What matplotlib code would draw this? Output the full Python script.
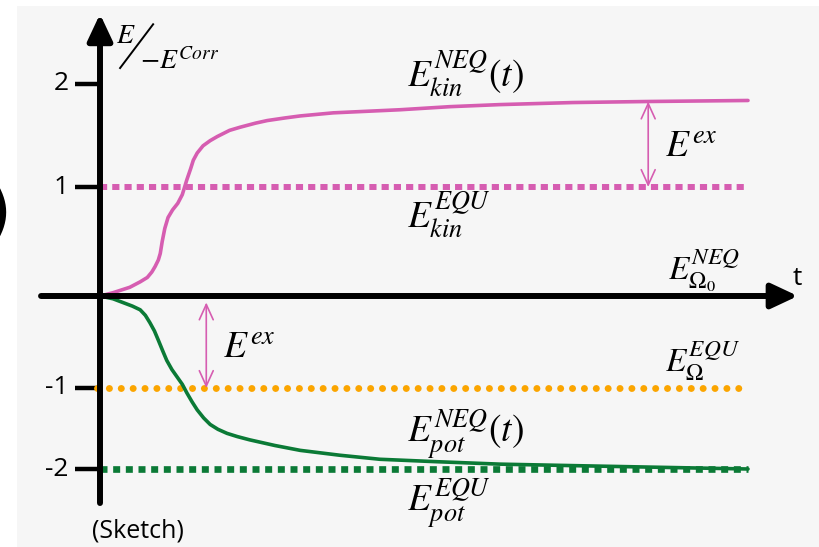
import numpy as np
import matplotlib
matplotlib.use("Agg")
import matplotlib.pyplot as plt
from matplotlib.patches import Rectangle

plt.rcParams['mathtext.fontset'] = 'stix'
plt.rcParams['font.family'] = ['Open Sans', 'DejaVu Sans']

PINK = '#d65db1'
GREEN = '#0b7a36'
ORANGE = '#fba500'

# sketch curves, energy in units of -E_corr vs time
kin_t = [0, 0.2, 0.46, 0.62, 0.73, 0.80, 0.85, 0.90, 0.93, 0.96, 1.00, 1.05,
         1.12, 1.20, 1.27, 1.34, 1.40, 1.44, 1.50, 1.59, 1.70, 1.81, 2.00,
         2.16, 2.40, 2.58, 2.85, 3.09, 3.60, 4.63, 5.40, 6.17, 7.30, 8.44, 10.0]
kin_e = [0, 0.03, 0.08, 0.13, 0.17, 0.22, 0.27, 0.33, 0.39, 0.50, 0.62, 0.72,
         0.79, 0.85, 0.93, 1.07, 1.18, 1.26, 1.33, 1.40, 1.45, 1.49, 1.55,
         1.58, 1.62, 1.645, 1.67, 1.69, 1.72, 1.75, 1.78, 1.80, 1.82, 1.83, 1.84]

pot_t = [0, 0.2, 0.35, 0.50, 0.62, 0.70, 0.77, 0.84, 0.90, 0.97, 1.03, 1.11,
         1.19, 1.27, 1.34, 1.42, 1.50, 1.60, 1.70, 1.82, 1.96, 2.12, 2.31,
         2.70, 3.09, 3.70, 4.32, 5.20, 6.17, 7.41, 8.70, 10.0]
pot_e = [0, -0.03, -0.07, -0.11, -0.15, -0.21, -0.29, -0.38, -0.48, -0.60,
         -0.70, -0.80, -0.88, -0.96, -1.06, -1.17, -1.27, -1.37, -1.45, -1.51,
         -1.56, -1.60, -1.64, -1.71, -1.77, -1.83, -1.88, -1.91, -1.94, -1.96,
         -1.98, -2.0]

# equilibrium levels
kin_equ = 1.0
omega_equ = -1.0
pot_equ = -2.0
t_end = 10.0

yticks = [-2, -1, 1, 2]

# the sketch axis is not evenly spaced: piecewise linear scale
knots_v = [-4, -2, -1, 0, 1, 2, 4]
knots_s = [-335, -173, -92, 0, 109, 212, 418]


def fwd(v):
    return np.interp(v, knots_v, knots_s)


def inv(s):
    return np.interp(s, knots_s, knots_v)


fig = plt.figure(figsize=(8.2, 5.47), dpi=100, facecolor='white')
fig.patches.append(Rectangle((17 / 820, 0), 803 / 820, 541 / 547,
                             transform=fig.transFigure, facecolor='#f6f6f6',
                             edgecolor='none', zorder=-5))
fig.text(12 / 820, 1 - 215 / 547, ')', ha='right', va='center',
         fontsize=48, family='DejaVu Sans', color='black')

ax = fig.add_axes([0, 0, 1, 1])
ax.set_facecolor('none')
ax.set_yscale('function', functions=(fwd, inv))
ax.set_xlim(-100 / 64.8, 720 / 64.8)
ax.set_ylim(inv(-251), inv(296))
for s in ax.spines.values():
    s.set_visible(False)
ax.set_xticks([])
ax.set_yticks([])
ax.minorticks_off()

# axes arrows
arrow = '-|>,head_length=1.6,head_width=0.75'
ax.annotate('', xy=(0, 2.68), xytext=(0, -2.42),
            arrowprops=dict(arrowstyle=arrow, lw=4.3, color='black',
                            shrinkA=0, shrinkB=0, mutation_scale=10))
ax.annotate('', xy=(10.77, 0), xytext=(-0.91, 0),
            arrowprops=dict(arrowstyle=arrow, lw=4.3, color='black',
                            shrinkA=0, shrinkB=0, mutation_scale=10))

# tick marks and labels
for v in yticks:
    ax.plot([-0.39, 0], [v, v], color='black', lw=3.2, solid_capstyle='butt')
    ax.text(-0.48, v, str(v), ha='right', va='center', fontsize=19)

ax.text(10.69, 0.10, 't', fontsize=19, ha='left', va='baseline')
ax.text(-0.13, -2.84, '(Sketch)', fontsize=18, ha='left', va='baseline')

# y axis label E / -E^Corr
ax.text(0.25, 2.40, '$E$', fontsize=20, ha='left', va='baseline')
ax.plot([0.31, 0.82], [2.155, 2.58], color='black', lw=1.4, clip_on=False)
ax.text(0.62, 2.146, '$-E^{Corr}$', fontsize=20, ha='left', va='baseline')

# equilibrium lines
ax.plot([0, t_end], [kin_equ, kin_equ], color=PINK, lw=4.3,
        linestyle=(0, (1.2, 0.85)), dash_capstyle='butt')
ax.plot([-0.05, 9.92], [omega_equ, omega_equ], color=ORANGE, lw=5.0,
        linestyle=(0, (0.01, 1.7)), dash_capstyle='round')
ax.plot([0, t_end], [pot_equ, pot_equ], color=GREEN, lw=4.8,
        linestyle=(0, (1.05, 0.85)), dash_capstyle='butt')

# non-equilibrium curves
ax.plot(kin_t, kin_e, color=PINK, lw=2.6, solid_joinstyle='round',
        solid_capstyle='round')
ax.plot(pot_t, pot_e, color=GREEN, lw=2.6, solid_joinstyle='round',
        solid_capstyle='round')

# excess energy arrows
ex_style = '<->,head_length=1.1,head_width=0.5'
ax.annotate('', xy=(8.46, kin_equ), xytext=(8.46, 1.83),
            arrowprops=dict(arrowstyle=ex_style, lw=1.2, color=PINK,
                            shrinkA=0, shrinkB=0, mutation_scale=10))
ax.annotate('', xy=(1.64, omega_equ), xytext=(1.64, -0.07),
            arrowprops=dict(arrowstyle=ex_style, lw=1.2, color=PINK,
                            shrinkA=0, shrinkB=0, mutation_scale=10))

fs = 27
ax.text(4.74, 1.97, r'$E_{kin}^{NEQ}(t)$', fontsize=fs, va='baseline')
ax.text(4.74, 0.63, r'$E_{kin}^{EQU}$', fontsize=fs, va='baseline')
ax.text(8.72, 1.29, r'$E^{ex}$', fontsize=fs, va='baseline')
ax.text(1.90, -0.67, r'$E^{ex}$', fontsize=fs, va='baseline')
ax.text(8.77, 0.147, r'$E_{\Omega_0}^{NEQ}$', fontsize=fs - 3, va='baseline')
ax.text(8.72, -0.83, r'$E_{\Omega}^{EQU}$', fontsize=fs - 3, va='baseline')
ax.text(4.74, -1.68, r'$E_{pot}^{NEQ}(t)$', fontsize=fs, va='baseline')
ax.text(4.74, -2.53, r'$E_{pot}^{EQU}$', fontsize=fs, va='baseline')

fig.savefig('out.png', dpi=100)
